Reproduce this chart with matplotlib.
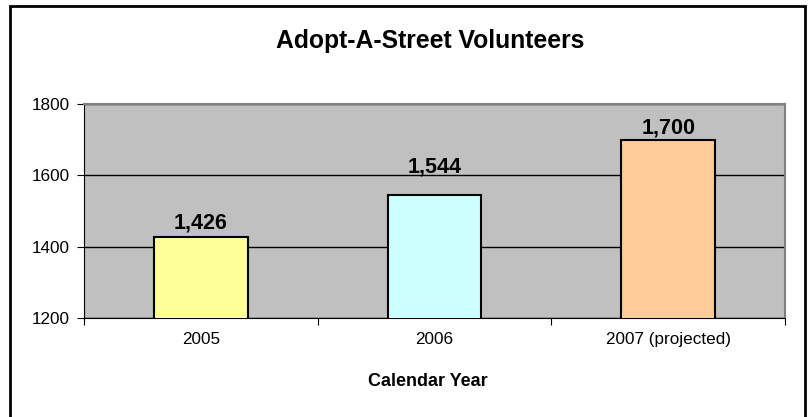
import numpy as np
import matplotlib.pyplot as plt
from matplotlib.patches import Rectangle

plt.rcParams['font.family'] = ['Liberation Sans', 'DejaVu Sans']

years = ["2005", "2006", "2007 (projected)"]
volunteers = [1426, 1544, 1700]
bar_colors = ["#FFFF99", "#CCFFFF", "#FFCC99"]
y_ticks = [1200, 1400, 1600, 1800]
# gap between bar top and label baseline, in pixels (as placed in the original)
label_gaps = [9, 23, 6]

W, H = 808, 417
fig = plt.figure(figsize=(W / 100, H / 100), dpi=100)

# outer chart border (bottom edge runs off the image)
fig.patches.append(Rectangle((10 / W, -0.05), 795 / W, 1.05 - 6 / H,
                             transform=fig.transFigure, fill=False,
                             edgecolor="black", linewidth=2))

left, right, top, bottom = 84, 785, 104, 318
ax = fig.add_axes([left / W, 1 - bottom / H, (right - left) / W, (bottom - top) / H])
ax.set_facecolor("#C0C0C0")

x = np.arange(len(years))
bars = ax.bar(x, volunteers, width=0.4, color=bar_colors, edgecolor="black",
              linewidth=1.5, bottom=0, zorder=3)
ax.set_xlim(-0.5, len(years) - 0.5)
ax.set_ylim(1200, 1800)
ax.set_yticks(y_ticks)
ax.set_yticklabels([str(t) for t in y_ticks], fontsize=12.3)
ax.yaxis.grid(True, color="black", linewidth=1, zorder=1)
ax.set_axisbelow(True)

# category labels between boundary ticks
ax.set_xticks(np.arange(len(years) + 1) - 0.5)
ax.set_xticklabels([])
ax.set_xticks(x, minor=True)
ax.set_xticklabels(years, minor=True, fontsize=12.3)
ax.tick_params(axis="x", which="minor", length=0, pad=10)
ax.tick_params(axis="x", which="major", length=5, color="black")
ax.tick_params(axis="y", length=5, color="black", pad=5)

for side in ["top", "right"]:
    ax.spines[side].set_color("#808080")
    ax.spines[side].set_linewidth(1.5)
ax.spines["left"].set_color("black")
ax.spines["bottom"].set_color("black")

for b, v, g in zip(bars, volunteers, label_gaps):
    ax.annotate(f"{v:,}", (b.get_x() + b.get_width() / 2, v),
                xytext=(0, g * 0.72), textcoords="offset points",
                ha="center", va="baseline", fontsize=15.5, fontweight="bold",
                zorder=4)

fig.text(430 / W, 1 - 41 / H, "Adopt-A-Street Volunteers", ha="center", va="center",
         fontsize=17.8, fontweight="bold")
fig.text(428 / W, 1 - 382 / H, "Calendar Year", ha="center", va="center",
         fontsize=13, fontweight="bold")

fig.savefig("out.png", dpi=100)
